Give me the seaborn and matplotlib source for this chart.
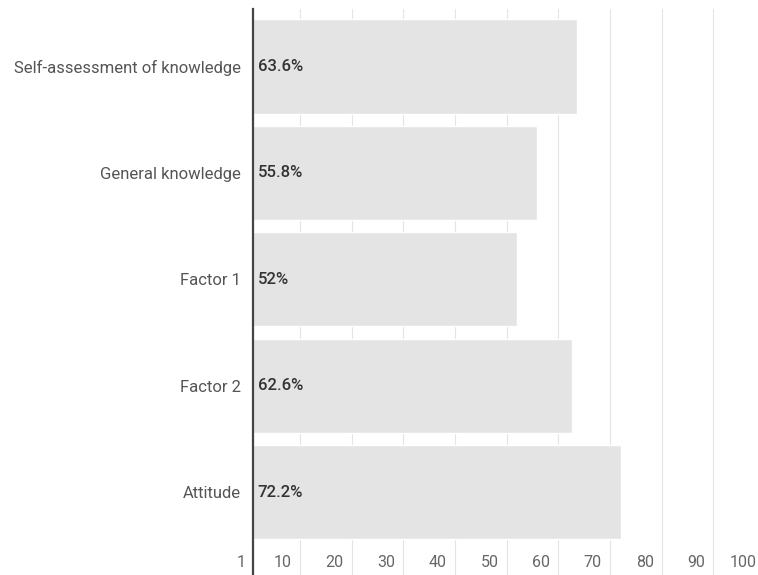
import matplotlib.pyplot as plt
import matplotlib.transforms as mtransforms
import seaborn as sns
import pandas as pd

categories = ['Self-assessment of knowledge', 'General knowledge', 'Factor 1', 'Factor 2', 'Attitude']
values = [63.6, 55.8, 52, 62.6, 72.2]
value_labels = ['63.6%', '55.8%', '52%', '62.6%', '72.2%']
x_ticks = [1, 10, 20, 30, 40, 50, 60, 70, 80, 90, 100]

df = pd.DataFrame({'category': categories, 'value': values})

sns.set_style('white')
plt.rcParams['font.family'] = ['Roboto', 'DejaVu Sans']

fig = plt.figure(figsize=(7.58, 5.75), dpi=100)
ax = fig.add_axes([0.3344, 0.0, 0.6748, 0.9843])

sns.barplot(data=df, x='value', y='category', orient='h', color='#e4e4e4',
            width=0.885, saturation=1, ax=ax, zorder=2)

ax.set_xlim(1, 100)
ax.set_ylim(4.78, -0.54)
ax.set_xticks(x_ticks)
ax.set_xlabel('')
ax.set_ylabel('')

# rejilla vertical detras de las barras
ax.set_axisbelow(True)
ax.grid(axis='x', color='#e4e4e4', linewidth=0.8)
ax.grid(axis='y', visible=False)

for side in ['top', 'right', 'bottom']:
    ax.spines[side].set_visible(False)
ax.spines['left'].set_color('#444444')
ax.spines['left'].set_linewidth(1.6)
ax.spines['left'].set_zorder(5)

ax.tick_params(axis='y', length=0, pad=9.0, labelsize=12, labelcolor='#555555')
ax.tick_params(axis='x', length=0, pad=-14.5, labelsize=11.5, labelcolor='#666666')

# etiquetas del eje x alineadas a la derecha, un poco a la izquierda de la linea
offset = mtransforms.ScaledTranslation(-8 / 100, 0, fig.dpi_scale_trans)
for lab in ax.get_xticklabels():
    lab.set_ha('right')
    lab.set_transform(lab.get_transform() + offset)

for i, txt in enumerate(value_labels):
    ax.annotate(txt, xy=(1, i), xytext=(3.0, 0), textcoords='offset points',
                ha='left', va='center', fontsize=12, color='#333333',
                fontweight='medium', zorder=6)

fig.savefig('out.png', dpi=100)
